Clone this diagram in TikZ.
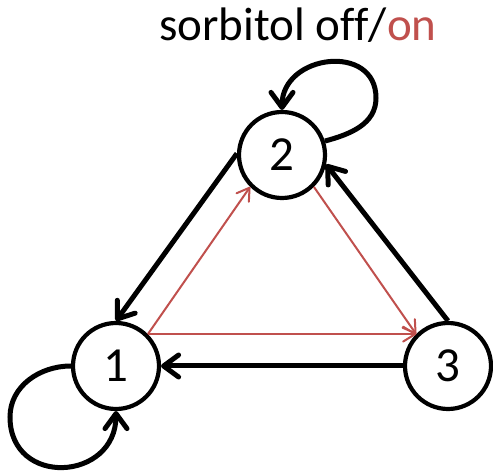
\documentclass[tikz,border=0pt]{standalone}
\usepackage{fontspec}
\setmainfont{Carlito}[Ligatures=NoCommon]
\usetikzlibrary{arrows.meta}
\definecolor{onred}{RGB}{192, 80, 77}
\tikzset{
  state/.style   = {circle, draw=black, line width=4.2pt, minimum size=86pt, inner sep=0pt, font=\fontsize{49}{50}\selectfont},
  flowoff/.style = {-{Straight Barb[length=15pt, width=22pt, round]}, line width=5pt, black},
  flowon/.style  = {-{Straight Barb[length=12pt, width=15pt, round]}, line width=2pt, onred},
  title/.style   = {font=\fontsize{47}{50}\selectfont, anchor=base, inner sep=0pt},
}

\begin{document}
\begin{tikzpicture}[x=1pt, y=1pt]
  \useasboundingbox (0,0) rectangle (493,471);
  \node[state] (n1) at (116,105) {1};
  \node[state] (n2) at (282,316) {2};
  \node[state] (n3) at (448,105) {3};
  \node[title] (lbl) at (298,430) {sorbitol off/\textcolor{onred}{on}};

  % sorbitol off
  \draw[flowoff] (n2.178) -- (n1.north);
  \draw[flowoff] (n3.north) -- (n2.-12);
  \draw[flowoff] (n3.west) -- (n1.east);

  % sorbitol on
  \draw[flowon] (n1.45) -- (n2.-135);
  \draw[flowon] (n2.-45) -- (n3.135);
  \draw[flowon] (n1.45) -- (n3.135);

  % self loops
  \coordinate (loop2) at (376,373);
  \draw[flowoff] (n2.18) to[out=15, in=-90] (loop2) to[out=90, in=90, looseness=1.5] (n2.north);
  \coordinate (loop1) at (10,54);
  \draw[flowoff] (n1.west) to[out=180, in=90] (loop1) to[out=-90, in=-90, looseness=1.7] (n1.south);
\end{tikzpicture}
\end{document}
